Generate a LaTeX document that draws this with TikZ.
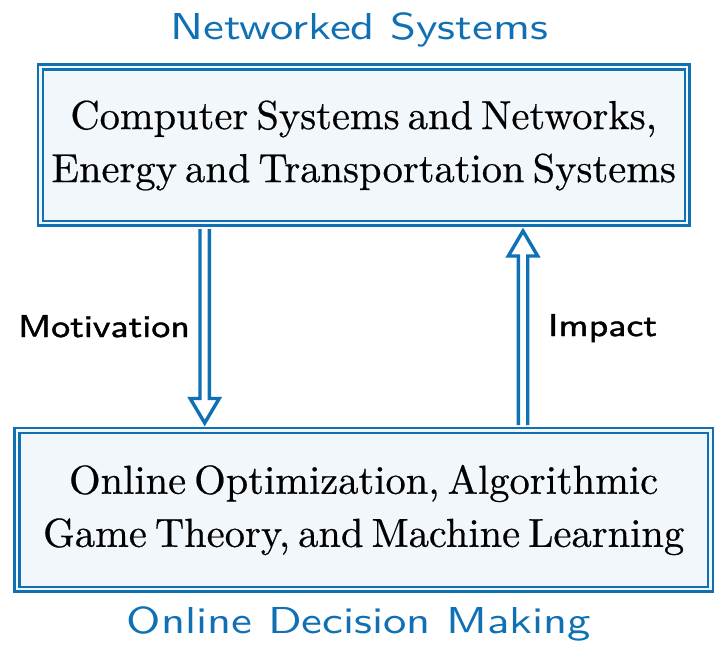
\documentclass[tikz,border=0pt]{standalone}
\usepackage{fontspec}
\usepackage{graphicx}
\usetikzlibrary{calc}
\definecolor{dblue}{RGB}{16,112,180}
\definecolor{boxfill}{RGB}{242,247,252}
\newfontfamily\lblsans{Latin Modern Sans}[FakeBold=1.2]
\newfontfamily\boxserif{Latin Modern Roman}[FakeBold=0.5]
\newcommand{\boxtext}[1]{\scalebox{4.05}{\fontsize{10}{13.1}\boxserif\selectfont\spaceskip=0.2em plus 0.05em minus 0.05em
  \begin{tabular}{@{}c@{}}#1\end{tabular}}}
\newcommand{\ttltext}[1]{\scalebox{4.67}[3.75]{\fontsize{10}{12}\selectfont\sffamily #1}}
\newcommand{\lbltext}[1]{\scalebox{3.79}[3.17]{\fontsize{10}{12}\selectfont\lblsans #1}}
\begin{document}
\begin{tikzpicture}[x=1pt,y=-1pt,
  bigbox/.style={draw=dblue, line width=2.4pt, double=boxfill, double distance=2.4pt,
    fill=boxfill, inner sep=0pt, align=center},
  title/.style={text=dblue, anchor=base, inner sep=0pt},
  lbl/.style={anchor=base, inner sep=0pt},
  arr/.style={draw=dblue, line width=3.4pt, line join=miter, fill=none}]
\useasboundingbox (0,0) rectangle (725,646);
\node[bigbox, minimum width=646.8pt, minimum height=156.2pt] (sys) at (363.7,145)
  {\boxtext{Computer Systems and Networks,\\Energy and Transportation Systems}};
\node[bigbox, minimum width=693.5pt, minimum height=158.8pt] (dec) at (363.65,509.7)
  {\boxtext{Online Optimization, Algorithmic\\Game Theory, and Machine Learning}};
\node[title] (t1) at (359.5,39.3) {\ttltext{Networked Systems}};
\node[title] (t2) at (359,633.5) {\ttltext{Online Decision Making}};
\node[lbl] (l1) at (104,337) {\lbltext{Motivation}};
\node[lbl] (l2) at (602.5,336) {\lbltext{Impact}};
% down arrow
\coordinate (dA) at (204.7,229);
\coordinate (dB) at (204.7,423);
\draw[arr] ($(dA)+(-4.7,0)$) -- ($(dB)+(-4.7,-24.5)$) -- ($(dB)+(-14.5,-24.5)$) -- (dB)
  -- ($(dB)+(14.5,-24.5)$) -- ($(dB)+(4.7,-24.5)$) -- ($(dA)+(4.7,0)$);
% up arrow
\coordinate (uA) at (523,425);
\coordinate (uB) at (523,231);
\draw[arr] ($(uA)+(-4.7,0)$) -- ($(uB)+(-4.7,25)$) -- ($(uB)+(-14.7,25)$) -- (uB)
  -- ($(uB)+(14.7,25)$) -- ($(uB)+(4.7,25)$) -- ($(uA)+(4.7,0)$);
\end{tikzpicture}
\end{document}
